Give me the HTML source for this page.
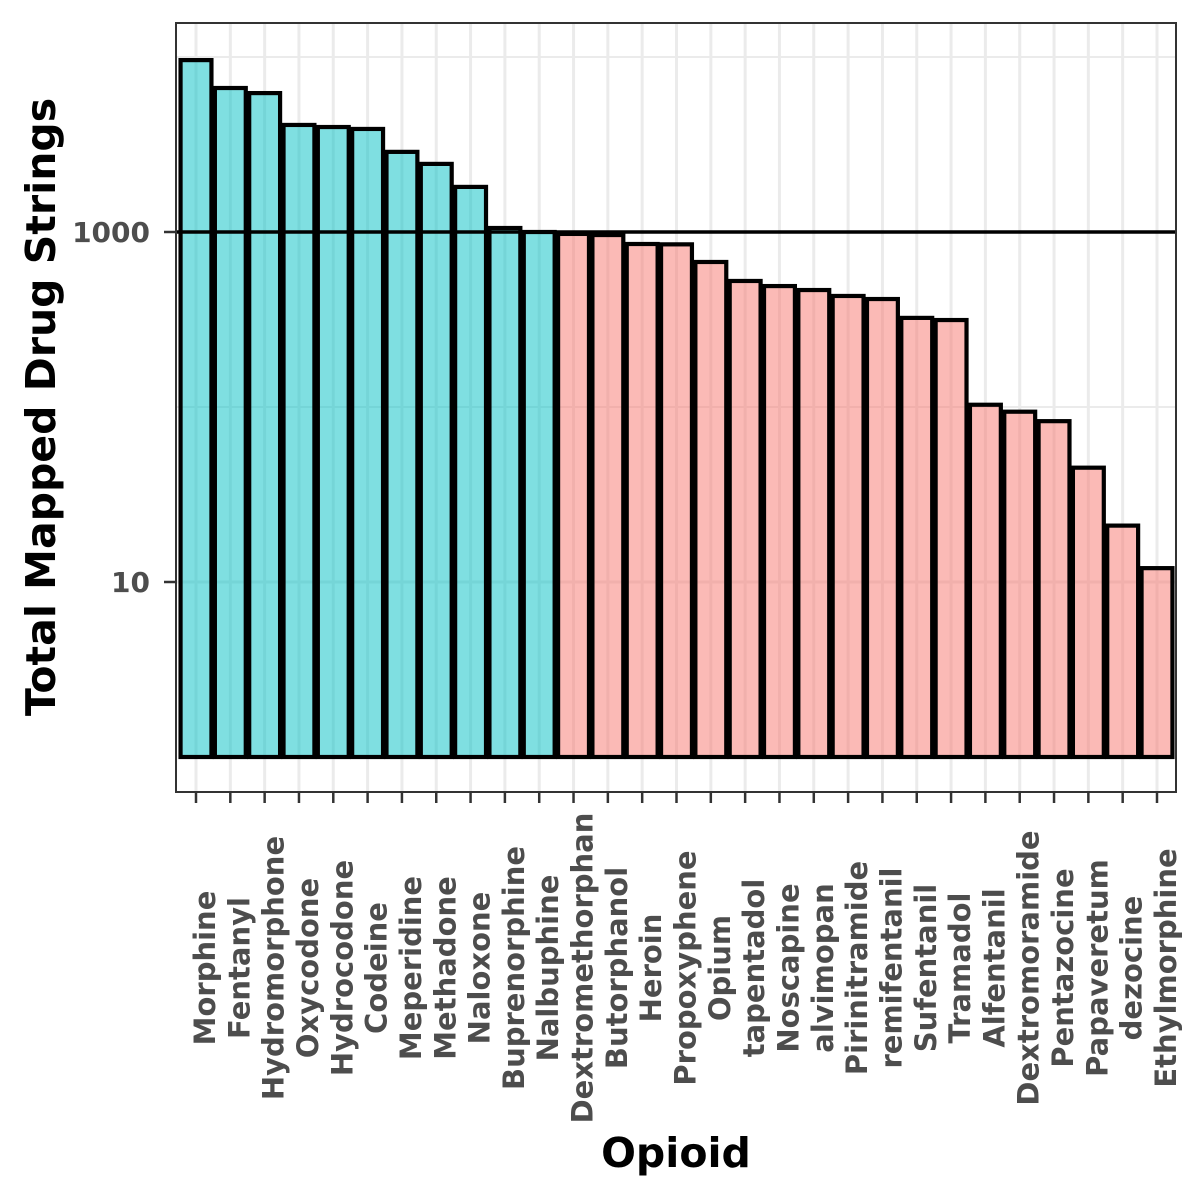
<!DOCTYPE html>
<html><head><meta charset="utf-8"><style>body{margin:0;background:#fff}svg{display:block}</style></head>
<body>
<svg id="chart" width="1200" height="1200" xmlns="http://www.w3.org/2000/svg" font-family="DejaVu Sans, Liberation Sans, sans-serif"></svg>
<script>
const categories = ["Morphine","Fentanyl","Hydromorphone","Oxycodone","Hydrocodone","Codeine","Meperidine","Methadone","Naloxone","Buprenorphine","Nalbuphine","Dextromethorphan","Butorphanol","Heroin","Propoxyphene","Opium","tapentadol","Noscapine","alvimopan","Pirinitramide","remifentanil","Sufentanil","Tramadol","Alfentanil","Dextromoramide","Pentazocine","Papaveretum","dezocine","Ethylmorphine"];
const values = [9600,6650,6220,4090,3980,3880,2870,2450,1810,1054,1000,975,961,854,850,674,525,491,466,431,414,323,314,103,94,83,45,21,12];
const yTicks = [10,1000];
const yTickLabels = ["10","1000"];
const yMinor = [100,10000];
const threshold = 1000;

const NS="http://www.w3.org/2000/svg";
const svg=document.getElementById('chart');
const PL=176,PR=1176,PT=23,PB=792;
const step=(1157-196)/28;
function x(i){return 196+i*step;}
function y(v){return 757-175*Math.log10(v);}
function mk(tag,attrs,parent){const e=document.createElementNS(NS,tag);for(const k in attrs)e.setAttribute(k,attrs[k]);(parent||svg).appendChild(e);return e;}

const panel=mk('rect',{x:PL,y:PT,width:PR-PL,height:PB-PT,fill:'#fff'});


const grid=mk('g',{});


yMinor.forEach(v=>{mk('line',{x1:PL,x2:PR,y1:y(v),y2:y(v),stroke:'#ebebeb','stroke-width':2},grid);});
yTicks.forEach(v=>{mk('line',{x1:PL,x2:PR,y1:y(v),y2:y(v),stroke:'#ebebeb','stroke-width':3},grid);});
categories.forEach((c,i)=>{mk('line',{x1:x(i),x2:x(i),y1:PT,y2:PB,stroke:'#ebebeb','stroke-width':3},grid);});

const bars=mk('g',{});


const bw=step*0.9;
values.forEach((v,i)=>{
  const r=mk('rect',{x:x(i)-bw/2,y:y(v),width:bw,height:y(1)-y(v),fill:v>=threshold?'#00BFC4':'#F8766D','fill-opacity':0.5,stroke:'#000','stroke-width':4.2},bars);
  
  
});
const hl=mk('line',{x1:PL,x2:PR,y1:y(threshold),y2:y(threshold),stroke:'#000','stroke-width':3.5});


const border=mk('rect',{x:PL,y:PT,width:PR-PL,height:PB-PT,fill:'none',stroke:'#333','stroke-width':2});



const ya=mk('g',{});


yTicks.forEach((v,i)=>{
  mk('line',{x1:164,x2:PL,y1:y(v),y2:y(v),stroke:'#333','stroke-width':2.5},ya);
  const t=mk('text',{x:150,y:y(v)+10,'text-anchor':'end','font-size':28,'font-weight':'bold',fill:'#4d4d4d'},ya);
  t.textContent=yTickLabels[i];
  
  
});
const xa=mk('g',{});


categories.forEach((c,i)=>{
  mk('line',{x1:x(i),x2:x(i),y1:PB,y2:PB+11,stroke:'#333','stroke-width':2.5},xa);
  const t=mk('text',{x:0,y:0,'text-anchor':'middle','font-size':29,'font-weight':'bold',fill:'#4d4d4d',transform:`translate(${x(i)+19},968) rotate(-90)`},xa);
  t.textContent=c;
  
  
});
const xt=mk('text',{x:676,y:1167,'text-anchor':'middle','font-size':41,'font-weight':'bold',fill:'#000'});
xt.textContent='Opioid';


const yt=mk('text',{x:0,y:0,'text-anchor':'middle','font-size':41,'font-weight':'bold',fill:'#000',transform:'translate(55,407) rotate(-90)'});
yt.textContent='Total Mapped Drug Strings';


</script>
</body></html>
